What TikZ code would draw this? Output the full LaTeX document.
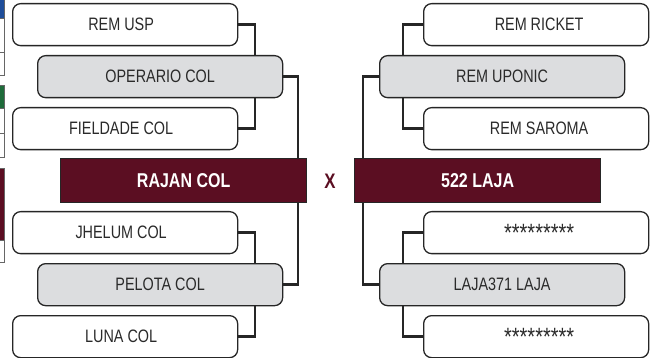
\documentclass[tikz,border=0pt]{standalone}
\usepackage{fontspec}
\setmainfont{Liberation Sans}[FakeStretch=0.80]
\definecolor{maroon}{HTML}{5B0E22}
\definecolor{boxgray}{HTML}{DCDDDF}
\definecolor{txt}{HTML}{2A2A2A}
\definecolor{edgeblue}{HTML}{1F4E9A}
\definecolor{edgegreen}{HTML}{1E6B3A}
\newcommand{\stars}{\raisebox{-7pt}{\fontsize{25}{25}\selectfont *********}}
\tikzset{
  team/.style={draw=black!85, line width=1.3pt, rounded corners=8pt, fill=white,
    minimum width=225pt, minimum height=42pt, anchor=north west, inner sep=0pt,
    font=\fontsize{18}{18}\selectfont, text=txt},
  winner/.style={team, fill=boxgray, minimum width=245pt},
  final/.style={draw=black!85, line width=1.3pt, fill=maroon, minimum width=246pt,
    minimum height=44pt, anchor=north west, inner sep=0pt,
    font=\fontsize{20}{20}\selectfont\bfseries, text=white},
  link/.style={draw=black!85, line width=2.4pt},
  strip/.style={draw=black!60, line width=0.8pt}
}
\begin{document}
\begin{tikzpicture}[x=1pt,y=1pt]
\useasboundingbox (0,0) rectangle (656,-358);
% cut-off strips at left edge
\draw[strip, fill=edgeblue] (-2,1) rectangle (4,-18);
\draw[strip, fill=white] (-2,-18) rectangle (4,-52);
\draw[strip, fill=white] (-2,-52) rectangle (4,-75);
\draw[strip, fill=edgegreen] (-2,-85) rectangle (4,-108);
\draw[strip, fill=white] (-2,-108) rectangle (4,-133);
\draw[strip, fill=white] (-2,-133) rectangle (4,-157);
\draw[strip, fill=maroon] (-2,-168) rectangle (4,-240);
\draw[strip, fill=white] (-2,-240) rectangle (4,-262);
% left bracket
\node[team] (usp) at (12,-3) {REM USP\hspace*{8pt}};
\node[winner] (oper) at (37,-55) {OPERARIO COL};
\node[team] (field) at (12,-107) {FIELDADE COL\hspace*{8pt}};
\node[final] (rajan) at (60,-158) {RAJAN COL};
\node[team] (jhel) at (12,-211) {JHELUM COL\hspace*{8pt}};
\node[winner] (pel) at (37,-263) {PELOTA COL};
\node[team] (luna) at (12,-315) {LUNA COL\hspace*{8pt}};
% right bracket
\node[team] (ricket) at (423,-3) {\hspace*{6pt}REM RICKET};
\node[winner] (upon) at (379,-55) {REM UPONIC};
\node[team] (sar) at (423,-107) {\hspace*{6pt}REM SAROMA};
\node[final] (laja) at (354,-158) {522 LAJA};
\node[team] (st1) at (423,-211) {\hspace*{6pt}\stars};
\node[winner] (l371) at (379,-263) {LAJA371 LAJA};
\node[team] (st2) at (423,-315) {\hspace*{6pt}\stars};
% versus
\node[font=\fontsize{21}{21}\selectfont\bfseries, text=maroon] (vs) at (330,-181) {X};
% left connectors
\draw[link] (usp.east) -| (oper.north -| 255,0);
\draw[link] (field.east) -| (oper.south -| 255,0);
\draw[link] (oper.east) -| (rajan.north -| 298,0);
\draw[link] (jhel.east) -| (pel.north -| 255,0);
\draw[link] (luna.east) -| (pel.south -| 255,0);
\draw[link] (pel.east) -| (rajan.south -| 298,0);
% right connectors
\draw[link] (ricket.west) -| (upon.north -| 403,0);
\draw[link] (sar.west) -| (upon.south -| 403,0);
\draw[link] (upon.west) -| (laja.north -| 363,0);
\draw[link] (st1.west) -| (l371.north -| 403,0);
\draw[link] (st2.west) -| (l371.south -| 403,0);
\draw[link] (l371.west) -| (laja.south -| 363,0);
\end{tikzpicture}
\end{document}
